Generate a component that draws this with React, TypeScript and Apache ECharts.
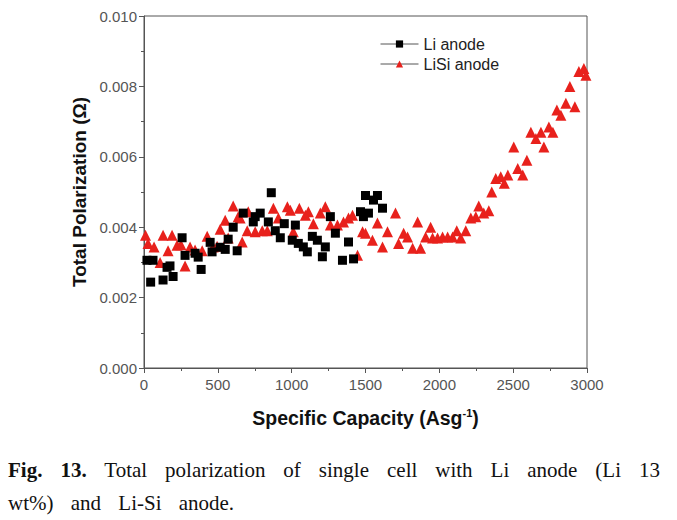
import React, { useEffect, useRef } from "react";
import * as echarts from "echarts";

const liAnode: number[][] = [
  [20, 0.00306], [45, 0.00244], [61, 0.00306], [129, 0.0025], [156, 0.00286], [176, 0.0029],
  [197, 0.0026], [258, 0.0037], [278, 0.0032], [346, 0.00326], [367, 0.00315], [387, 0.0028],
  [448, 0.00357], [461, 0.0033], [516, 0.00343], [550, 0.00337], [570, 0.00366], [604, 0.004],
  [631, 0.00333], [672, 0.0044], [740, 0.00415], [753, 0.0043], [787, 0.0044], [842, 0.00415],
  [862, 0.00498], [889, 0.0039], [923, 0.0037], [950, 0.0041], [1004, 0.00363], [1025, 0.00406],
  [1045, 0.00354], [1079, 0.00344], [1106, 0.0033], [1140, 0.00374], [1174, 0.00363], [1208, 0.00316],
  [1228, 0.00344], [1262, 0.0043], [1296, 0.00383], [1344, 0.00306], [1385, 0.00358], [1419, 0.0031],
  [1466, 0.00444], [1486, 0.0043], [1500, 0.0049], [1520, 0.0044], [1554, 0.00477], [1581, 0.0049],
  [1615, 0.00454],
];

const liSiAnode: number[][] = [
  [10, 0.00377], [27, 0.00354], [68, 0.00344], [109, 0.003], [129, 0.00377], [163, 0.00333],
  [190, 0.00377], [224, 0.00349], [250, 0.0035], [278, 0.0029], [312, 0.00344], [346, 0.00335],
  [394, 0.00333], [428, 0.00374], [468, 0.00344], [495, 0.00346], [516, 0.00394], [550, 0.0042],
  [570, 0.00369], [604, 0.0046], [638, 0.0043], [651, 0.00426], [665, 0.00358], [699, 0.0039],
  [706, 0.00444], [753, 0.00387], [801, 0.0039], [835, 0.0039], [876, 0.00454], [910, 0.00426],
  [971, 0.00458], [991, 0.00448], [1011, 0.00387], [1052, 0.00454], [1093, 0.00434], [1113, 0.00444],
  [1147, 0.0041], [1194, 0.0044], [1228, 0.00458], [1262, 0.00406], [1310, 0.00406], [1351, 0.00415],
  [1385, 0.00426], [1412, 0.00434], [1446, 0.0032], [1480, 0.00387], [1500, 0.00383], [1547, 0.00363],
  [1581, 0.00412], [1615, 0.00344], [1649, 0.00387], [1703, 0.0044], [1724, 0.00354], [1758, 0.00383],
  [1785, 0.00372], [1819, 0.0034], [1853, 0.00415], [1873, 0.0034], [1907, 0.00372], [1941, 0.004],
  [1954, 0.00369], [1988, 0.00369], [2022, 0.00372], [2056, 0.00372], [2090, 0.00372], [2118, 0.0039],
  [2145, 0.00369], [2179, 0.0039], [2213, 0.00426], [2247, 0.0043], [2267, 0.0046], [2301, 0.0044],
  [2335, 0.00447], [2355, 0.005], [2382, 0.00538], [2416, 0.00543], [2440, 0.00525], [2464, 0.00548],
  [2504, 0.00628], [2531, 0.00567], [2565, 0.00548], [2593, 0.0059], [2620, 0.0067], [2654, 0.00652],
  [2688, 0.0067], [2708, 0.00628], [2742, 0.00685], [2769, 0.0067], [2796, 0.00733], [2823, 0.00718],
  [2857, 0.00752], [2884, 0.008], [2918, 0.00742], [2945, 0.00842], [2979, 0.00851], [2993, 0.00832],
];

const seriesNames = ["Li anode", "LiSi anode"];
const xTitle = "{a|Specific Capacity (Asg}{s|-1}{a|)}";
const yTitle = "Total Polarization (Ω)";
const captionLine1Bold = "Fig. 13.";
const captionLine1 = "Total polarization of single cell with Li anode (Li 13";
const captionLine2 = "wt%) and Li-Si anode.";

export default function App() {
  const ref = useRef<HTMLDivElement>(null);
  useEffect(() => {
    if (!ref.current) return;
    const chart = echarts.init(ref.current, undefined, { renderer: "svg" });
    const axisColor = "#555";
    const font = "Arial, 'Liberation Sans', sans-serif";
    const labelStyle = { color: "#555", fontSize: 15, fontFamily: font };
    chart.setOption({
      animation: false,
      grid: {
        left: 144,
        right: 90,
        top: 16,
        height: 352,
        show: true,
        borderColor: axisColor,
        borderWidth: 1,
        backgroundColor: "transparent",
      },
      legend: {
        orient: "vertical",
        left: 375,
        top: 31,
        itemWidth: 38,
        itemHeight: 9,
        itemGap: 4,
        data: seriesNames,
        textStyle: { color: "#222", fontSize: 16, fontFamily: font },
        lineStyle: { color: "#555", width: 1, opacity: 1 },
      },
      xAxis: {
        type: "value",
        min: 0,
        max: 3000,
        interval: 500,
        name: xTitle,
        nameLocation: "middle",
        nameGap: 39,
        nameTextStyle: {
          rich: {
            a: { fontSize: 19.5, fontWeight: "bold", color: "#111", fontFamily: font, lineHeight: 22 },
            s: { fontSize: 11, fontWeight: "bold", color: "#111", fontFamily: font, verticalAlign: "top", lineHeight: 12 },
          },
        },
        axisLine: { lineStyle: { color: axisColor, width: 1 } },
        axisTick: { inside: false, length: 5, lineStyle: { color: axisColor } },
        minorTick: { show: true, splitNumber: 2, length: 3, lineStyle: { color: axisColor } },
        axisLabel: { ...labelStyle, margin: 9, formatter: (v: number) => String(v) },
        splitLine: { show: false },
      },
      yAxis: {
        type: "value",
        min: 0,
        max: 0.01,
        interval: 0.002,
        name: yTitle,
        nameLocation: "middle",
        nameGap: 53,
        nameTextStyle: {
          fontSize: 19,
          fontWeight: "bold",
          color: "#111",
          fontFamily: font,
        },
        axisLine: { show: true, lineStyle: { color: axisColor, width: 1 } },
        axisTick: { show: true, inside: false, length: 5, lineStyle: { color: axisColor } },
        minorTick: { show: true, splitNumber: 2, length: 3, lineStyle: { color: axisColor } },
        axisLabel: { ...labelStyle, margin: 7, formatter: (v: number) => v.toFixed(3) },
        splitLine: { show: false },
      },
      series: [
        {
          name: seriesNames[0],
          type: "line",
          data: liAnode,
          symbol: "rect",
          symbolSize: 9,
          itemStyle: { color: "#000" },
          lineStyle: { width: 0, opacity: 0 },
          z: 3,
        },
        {
          name: seriesNames[1],
          type: "line",
          data: liSiAnode,
          symbol: "triangle",
          symbolSize: 11,
          itemStyle: { color: "#e8211c" },
          lineStyle: { width: 0, opacity: 0 },
          z: 2,
        },
      ],
    });
    return () => chart.dispose();
  }, []);

  const serif = "'Liberation Serif', 'DejaVu Serif', serif";
  return (
    <div style={{ position: "absolute", left: 0, top: 0, width: 677, height: 520, background: "#fff" }}>
      <div ref={ref} style={{ position: "absolute", left: 0, top: 0, width: 677, height: 440 }} />
      <div
        style={{
          position: "absolute",
          left: 8,
          top: 454,
          width: 652,
          fontFamily: serif,
          fontSize: 21,
          lineHeight: "33px",
          color: "#111",
        }}
      >
        <div style={{ textAlign: "justify", textAlignLast: "justify" as any, whiteSpace: "normal" }}>
          <b>{captionLine1Bold}</b> {captionLine1}
        </div>
        <div style={{ textAlign: "left", wordSpacing: 12, whiteSpace: "nowrap" }}>{captionLine2}</div>
      </div>
    </div>
  );
}
